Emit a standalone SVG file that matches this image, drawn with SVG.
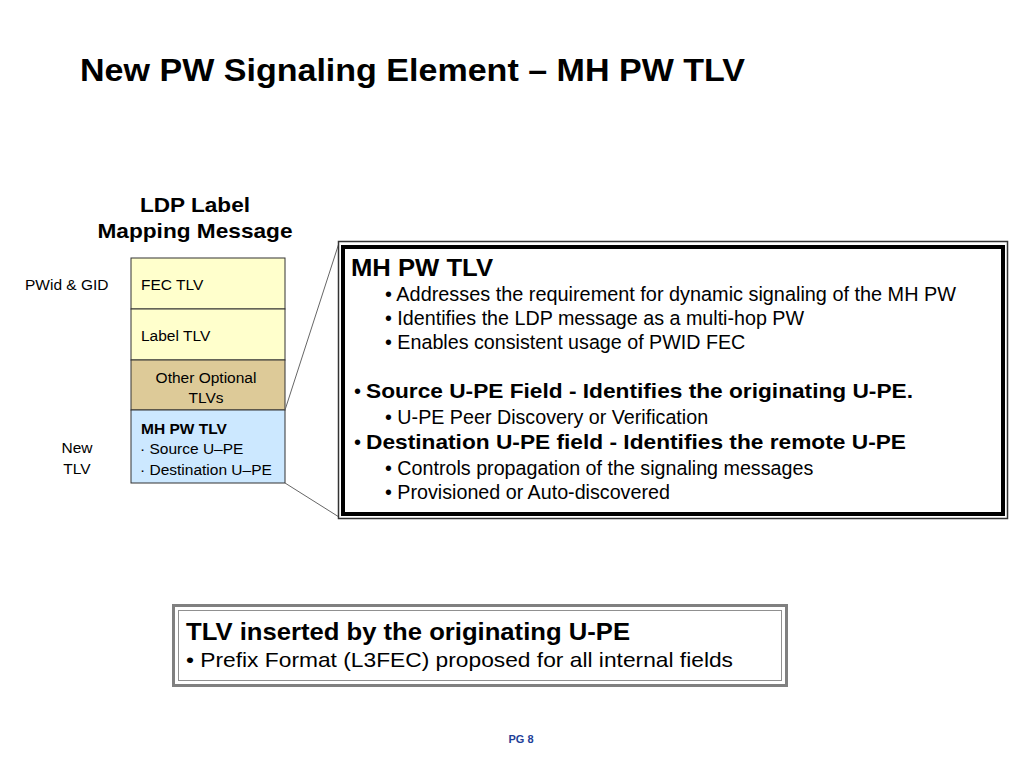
<svg xmlns="http://www.w3.org/2000/svg" width="1024" height="768" viewBox="0 0 1024 768">
<style>
text{font-family:"Liberation Sans",Arial,sans-serif;fill:#000}
.b{font-weight:bold}
.stk{font-size:15.5px}
.cell{stroke:#333;stroke-width:1}
.big{font-size:19.7px}
.bb{font-size:21px;font-weight:bold}
.conn{stroke:#666;stroke-width:1;fill:none}
</style>
<rect width="1024" height="768" fill="#fff"/>
<text id="title" class="b" x="80" y="81" font-size="32" textLength="665" lengthAdjust="spacingAndGlyphs">New PW Signaling Element – MH PW TLV</text>
<g id="stack-title">
<text class="b" x="195" y="212" font-size="21" text-anchor="middle" textLength="110" lengthAdjust="spacingAndGlyphs">LDP Label</text>
<text class="b" x="195" y="238" font-size="21" text-anchor="middle" textLength="195" lengthAdjust="spacingAndGlyphs">Mapping Message</text>
</g>
<g id="fec">
<rect class="cell" x="131" y="258" width="154" height="51" fill="#FFFFCC"/>
<text class="stk" x="141" y="290">FEC TLV</text>
</g>
<g id="label">
<rect class="cell" x="131" y="309" width="154" height="51" fill="#FFFFCC"/>
<text class="stk" x="141" y="341">Label TLV</text>
</g>
<g id="other">
<rect class="cell" x="131" y="360" width="154" height="50" fill="#DDCA98"/>
<text class="stk" x="206" y="383" text-anchor="middle">Other Optional</text>
<text class="stk" x="206" y="403" text-anchor="middle">TLVs</text>
</g>
<g id="mhpw">
<rect class="cell" x="131" y="410" width="154" height="73" fill="#CCE8FF"/>
<text class="stk b" x="141" y="434">MH PW TLV</text>
<text class="stk" x="140" y="454">· Source U–PE</text>
<text class="stk" x="140" y="475">· Destination U–PE</text>
</g>
<g id="side-labels">
<text class="stk" x="25" y="290">PWid &amp; GID</text>
<text class="stk" x="77" y="453" text-anchor="middle">New</text>
<text class="stk" x="77" y="474" text-anchor="middle">TLV</text>
</g>
<g id="connectors">
<line class="conn" x1="285" y1="410" x2="339" y2="243"/>
<line class="conn" x1="285" y1="483" x2="339" y2="517"/>
</g>
<g id="detail">
<rect x="338.5" y="241.5" width="669" height="277" fill="#fff" stroke="#333" stroke-width="1.5"/>
<rect x="343" y="247" width="660" height="267" fill="none" stroke="#000" stroke-width="4"/>
<text class="b" x="351" y="276" font-size="23" textLength="142" lengthAdjust="spacingAndGlyphs">MH PW TLV</text>
<text class="big" x="385" y="301" textLength="571" lengthAdjust="spacingAndGlyphs">• Addresses the requirement for dynamic signaling of the MH PW</text>
<text class="big" x="385" y="325">• Identifies the LDP message as a multi-hop PW</text>
<text class="big" x="385" y="349">• Enables consistent usage of PWID FEC</text>
<text x="354" y="398" font-size="20">• </text>
<text class="bb" x="366" y="398" textLength="547" lengthAdjust="spacingAndGlyphs">Source U-PE Field - Identifies the originating U-PE.</text>
<text class="big" x="385" y="424">• U-PE Peer Discovery or Verification</text>
<text x="354" y="449" font-size="20">• </text>
<text class="bb" x="366" y="449" textLength="540" lengthAdjust="spacingAndGlyphs">Destination U-PE field - Identifies the remote U-PE</text>
<text class="big" x="385" y="475">• Controls propagation of the signaling messages</text>
<text class="big" x="385" y="499">• Provisioned or Auto-discovered</text>
</g>
<g id="note">
<rect x="173.5" y="605.5" width="613" height="80" fill="#fff" stroke="#808080" stroke-width="3"/>
<rect x="178.5" y="610.5" width="603" height="70" fill="none" stroke="#909090" stroke-width="1"/>
<text class="b" x="186" y="640" font-size="24" textLength="444" lengthAdjust="spacingAndGlyphs">TLV inserted by the originating U-PE</text>
<text x="186" y="667" font-size="21" textLength="547" lengthAdjust="spacingAndGlyphs">• Prefix Format (L3FEC) proposed for all internal fields</text>
</g>
<text id="page" class="b" x="521" y="743" font-size="11" text-anchor="middle" style="fill:#1F3F99">PG 8</text>
</svg>
